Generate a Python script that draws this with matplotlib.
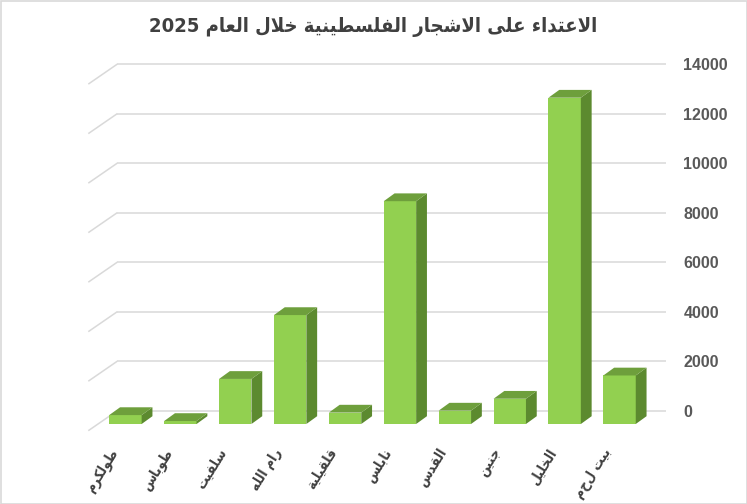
import re
import matplotlib
matplotlib.use("Agg")
import matplotlib.pyplot as plt
from matplotlib.patches import Polygon, Rectangle

# ---------------- data ----------------
title_text = "الاعتداء على الاشجار الفلسطينية خلال العام 2025"
categories = ["طولكرم", "طوباس", "سلفيت", "رام الله", "قلقيلية",
              "نابلس", "القدس", "جنين", "الخليل", "بيت لحم"]
values = [360, 120, 1820, 4400, 460, 9000, 540, 1020, 13180, 1960]
yticks = [0, 2000, 4000, 6000, 8000, 10000, 12000, 14000]
ytick_labels = [str(t) for t in yticks]

# ---------------- simple Arabic shaping ----------------
FORMS = {  # isolated, final, initial, medial
    'ء': (0xFE80, None, None, None),
    'ا': (0xFE8D, 0xFE8E, None, None),
    'ب': (0xFE8F, 0xFE90, 0xFE91, 0xFE92),
    'ة': (0xFE93, 0xFE94, None, None),
    'ت': (0xFE95, 0xFE96, 0xFE97, 0xFE98),
    'ج': (0xFE9D, 0xFE9E, 0xFE9F, 0xFEA0),
    'خ': (0xFEA5, 0xFEA6, 0xFEA7, 0xFEA8),
    'د': (0xFEA9, 0xFEAA, None, None),
    'ر': (0xFEAD, 0xFEAE, None, None),
    'س': (0xFEB1, 0xFEB2, 0xFEB3, 0xFEB4),
    'ش': (0xFEB5, 0xFEB6, 0xFEB7, 0xFEB8),
    'ط': (0xFEC1, 0xFEC2, 0xFEC3, 0xFEC4),
    'ع': (0xFEC9, 0xFECA, 0xFECB, 0xFECC),
    'ف': (0xFED1, 0xFED2, 0xFED3, 0xFED4),
    'ق': (0xFED5, 0xFED6, 0xFED7, 0xFED8),
    'ك': (0xFED9, 0xFEDA, 0xFEDB, 0xFEDC),
    'ل': (0xFEDD, 0xFEDE, 0xFEDF, 0xFEE0),
    'م': (0xFEE1, 0xFEE2, 0xFEE3, 0xFEE4),
    'ن': (0xFEE5, 0xFEE6, 0xFEE7, 0xFEE8),
    'ه': (0xFEE9, 0xFEEA, 0xFEEB, 0xFEEC),
    'و': (0xFEED, 0xFEEE, None, None),
    'ى': (0xFEEF, 0xFEF0, None, None),
    'ي': (0xFEF1, 0xFEF2, 0xFEF3, 0xFEF4),
}


def joins_next(c):
    f = FORMS.get(c)
    return f is not None and f[2] is not None


def shape(text):
    chars = list(text)
    n = len(chars)
    res = []
    i = 0
    while i < n:
        c = chars[i]
        if c not in FORMS:
            res.append(c)
            i += 1
            continue
        prev = chars[i - 1] if i > 0 else None
        f = FORMS[c]
        conn_prev = prev is not None and joins_next(prev) and f[1] is not None
        if c == 'ل' and i + 1 < n and chars[i + 1] == 'ا':
            res.append(chr(0xFEFC if conn_prev else 0xFEFB))
            i += 2
            continue
        nxt = chars[i + 1] if i + 1 < n else None
        conn_next = f[2] is not None and nxt is not None and nxt in FORMS
        if conn_prev and conn_next:
            g = f[3]
        elif conn_prev:
            g = f[1]
        elif conn_next:
            g = f[2]
        else:
            g = f[0]
        res.append(chr(g))
        i += 1
    visual = "".join(res)[::-1]
    return re.sub(r"[0-9]+", lambda m: m.group(0)[::-1], visual)


# ---------------- style ----------------
W, H, DPI = 747, 504, 100
FRONT = "#92D050"
TOP = "#6E9F3C"
SIDE = "#5C8A2F"
GRID = "#D9D9D9"
TXT = "#595959"
AR_FONT = ["DejaVu Sans"]

fig = plt.figure(figsize=(W / DPI, H / DPI), dpi=DPI)
fig.patch.set_facecolor("white")

# front plane of the bars (pixel layout)
x0_px, x1_px = 98.0, 647.0
ybot_px, ytop_px = 424.0, 77.4
ax = fig.add_axes([x0_px / W, 1 - ybot_px / H,
                   (x1_px - x0_px) / W, (ybot_px - ytop_px) / H])
n = len(categories)
ax.set_xlim(-0.5, n - 0.5)
ax.set_ylim(yticks[0], yticks[-1])
ax.axis("off")

inv = ax.transData.inverted()


def px(dx, dy):
    a = inv.transform((0, 0))
    b = inv.transform((dx, dy))
    return b[0] - a[0], b[1] - a[1]


bx, by = px(19.3, 13.3)     # back wall
fx, fy = px(-9.7, -6.7)     # front edge of floor / side wall
dx, dy = px(10.8, 7.8)      # bar depth
xl, xr = -0.5, n - 0.5

# gridlines on back wall + side wall
for t, lab in zip(yticks, ytick_labels):
    ax.plot([xl + bx, xr + bx], [t + by, t + by], color=GRID, lw=1.1,
            clip_on=False, zorder=1, solid_capstyle="butt")
    ax.plot([xl + fx, xl + bx], [t + fy, t + by], color=GRID, lw=1.1,
            clip_on=False, zorder=1, solid_capstyle="butt")
    ax.annotate(lab, xy=(xr + bx, t + by), xytext=(17, -1.5),
                textcoords="offset pixels", ha="left", va="center",
                fontsize=11.5, color=TXT, family="Liberation Sans",
                fontweight="bold", annotation_clip=False)

# bars
bw = 0.59
xs = list(range(n))
ax.bar(xs, values, width=bw, color=FRONT, zorder=3, clip_on=False,
       linewidth=0)
for x, v in zip(xs, values):
    top = Polygon([(x - bw / 2, v), (x + bw / 2, v),
                   (x + bw / 2 + dx, v + dy), (x - bw / 2 + dx, v + dy)],
                  closed=True, facecolor=TOP, edgecolor="none",
                  zorder=3, clip_on=False)
    side = Polygon([(x + bw / 2, 0), (x + bw / 2 + dx, dy),
                    (x + bw / 2 + dx, v + dy), (x + bw / 2, v)],
                   closed=True, facecolor=SIDE, edgecolor="none",
                   zorder=3, clip_on=False)
    ax.add_patch(side)
    ax.add_patch(top)

# category labels
for x, c in zip(xs, categories):
    ax.annotate(shape(c), xy=(x, 0), xytext=(-17, -22),
                textcoords="offset pixels", ha="right", va="top",
                rotation=58, rotation_mode="anchor", fontsize=10,
                fontweight="bold", fontstretch="condensed",
                color="#404040", family=AR_FONT, annotation_clip=False)

# title
fig.text(373.5 / W, 1 - 27 / H, shape(title_text), ha="center",
         va="center", fontsize=14.5, fontweight="bold", color="#404040",
         fontstretch="condensed", family=AR_FONT)

# chart border
fig.patches.append(Rectangle((0.5 / W, 0.5 / H), 1 - 1.0 / W, 1 - 1.0 / H,
                             transform=fig.transFigure, fill=False,
                             edgecolor=GRID, lw=1.2))

fig.savefig("out.png", dpi=DPI, facecolor="white")
